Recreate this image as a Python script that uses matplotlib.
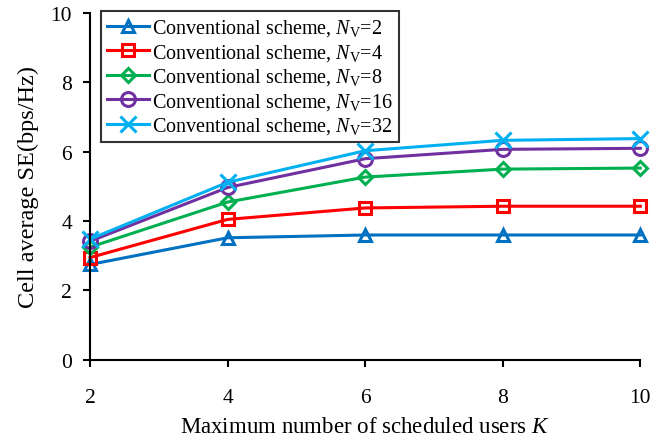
import matplotlib
matplotlib.use("Agg")
import matplotlib.pyplot as plt

plt.rcParams['font.family'] = 'Liberation Serif'
plt.rcParams['mathtext.fontset'] = 'custom'
plt.rcParams['mathtext.rm'] = 'Liberation Serif'
plt.rcParams['mathtext.it'] = 'Liberation Serif:italic'

K = [2, 4, 6, 8, 10]
se_nv2 = [2.75, 3.52, 3.60, 3.60, 3.60]
se_nv4 = [2.95, 4.05, 4.38, 4.43, 4.43]
se_nv8 = [3.25, 4.55, 5.27, 5.50, 5.53]
se_nv16 = [3.42, 4.97, 5.80, 6.07, 6.10]
se_nv32 = [3.48, 5.12, 6.03, 6.33, 6.38]

series = [
    (se_nv2, "2", "#0070C0", "^", 9),
    (se_nv4, "4", "#FF0000", "s", 9),
    (se_nv8, "8", "#00B050", "D", 7),
    (se_nv16, "16", "#7030A0", "o", 10),
    (se_nv32, "32", "#00B0F0", "x", 11),
]

fig = plt.figure(figsize=(6.67, 4.39), dpi=100)
ax = fig.add_axes([0.135, 0.178, 0.825, 0.79])

for vals, nv, color, marker, ms in series:
    ax.plot(K, vals, color=color, lw=2.2, marker=marker, ms=ms,
            mfc="none", mec=color, mew=2.2, clip_on=False,
            label=r"Conventional scheme, $N_{\mathrm{V}}$=" + nv)

ax.set_xlim(2, 10)
ax.set_ylim(0, 10)
ax.set_xticks(K)
ax.set_yticks([0, 2, 4, 6, 8, 10])
ax.spines['top'].set_visible(False)
ax.spines['right'].set_visible(False)
ax.spines['left'].set_linewidth(1.5)
ax.spines['bottom'].set_linewidth(1.5)
ax.tick_params(direction='out', width=1.5, length=5, labelsize=15.5)
ax.tick_params(axis='x', pad=15)
ax.tick_params(axis='y', pad=8)
ax.set_xlabel(r"Maximum number of scheduled users $K$", fontsize=16.5, labelpad=7)
ax.set_ylabel("Cell average SE(bps/Hz)", fontsize=17.5, labelpad=8)

leg = ax.legend(loc='upper left', bbox_to_anchor=(0.02, 1.005), fontsize=14.5,
                frameon=True, fancybox=False, edgecolor='black',
                handlelength=2.1, borderaxespad=0.0, labelspacing=0.18,
                handletextpad=0.15, borderpad=0.3)
leg.get_frame().set_linewidth(1.5)

fig.savefig("out.png", dpi=100)
